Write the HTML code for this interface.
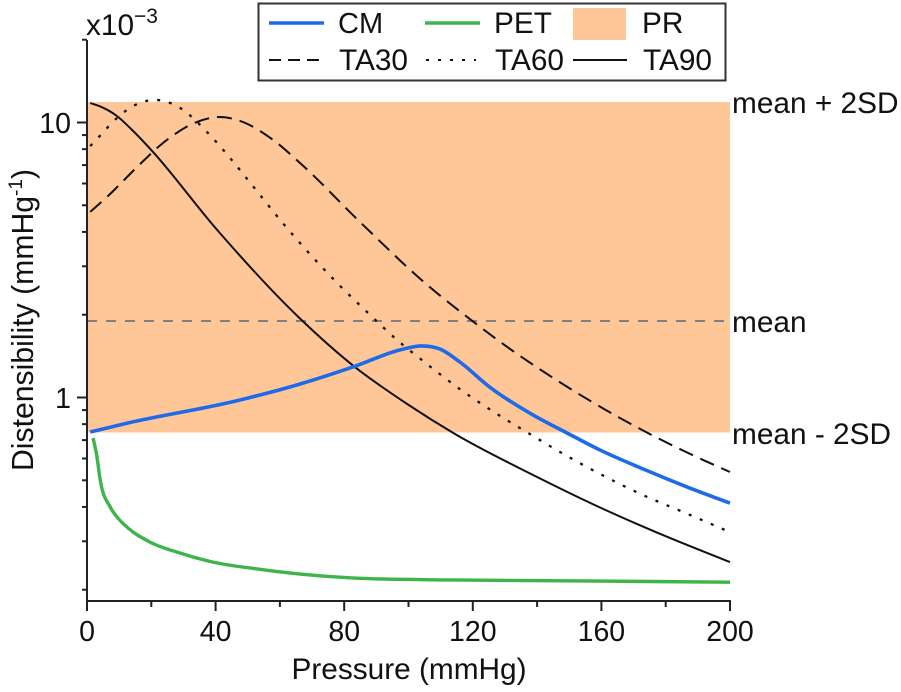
<!DOCTYPE html>
<html lang="en">
<head>
<meta charset="utf-8">
<title>Distensibility vs Pressure</title>
<style>
html,body{margin:0;padding:0;background:#fff;width:901px;height:692px;overflow:hidden}
svg{display:block;font-family:"Liberation Sans",Arial,sans-serif;fill:#111}
text{font-size:29.8px}
text.tick{font-size:28.5px}
</style>
</head>
<body>
<svg id="chart" width="901" height="692" viewBox="0 0 901 692" xmlns="http://www.w3.org/2000/svg">
  <g id="plot"></g>
  <g id="axes"></g>
  <text x="86" y="35">x10<tspan dy="-12" font-size="21">−3</tspan></text>
  <text x="409" y="679" text-anchor="middle">Pressure (mmHg)</text>
  <text transform="translate(33,320) rotate(-90)" text-anchor="middle" style="font-size:30.2px">Distensibility (mmHg<tspan dy="-11" font-size="19">-1</tspan><tspan dy="11">)</tspan></text>
  <text x="732" y="113">mean + 2SD</text>
  <text x="732" y="332">mean</text>
  <text x="732" y="444">mean - 2SD</text>
  <g>
    <rect x="258.5" y="3.5" width="467" height="77" fill="#fff" stroke="#333" stroke-width="2"/>
    <line x1="269" x2="324" y1="23" y2="23" stroke="#1f6ae8" stroke-width="3.5"/>
    <text x="338" y="33" style="font-size:29px">CM</text>
    <line x1="425" x2="480" y1="23" y2="23" stroke="#3db54a" stroke-width="3.5"/>
    <text x="494" y="33">PET</text>
    <rect x="573" y="8" width="53" height="32" fill="#ffc797"/>
    <text x="642" y="33">PR</text>
    <line x1="269" x2="319" y1="60" y2="60" stroke="#111" stroke-width="2" stroke-dasharray="12 7"/>
    <text x="339" y="70">TA30</text>
    <line x1="426" x2="476" y1="60" y2="60" stroke="#111" stroke-width="2" stroke-dasharray="3 9"/>
    <text x="495" y="70">TA60</text>
    <line x1="573" x2="627" y1="60" y2="60" stroke="#111" stroke-width="2"/>
    <text x="643" y="70">TA90</text>
  </g>
</svg>
<script>
// Pressure in mmHg; distensibility in units of 1e-3 mmHg^-1
const bandLow = 0.746;
const bandMean = 1.897;
const bandHigh = 11.87;

const cmPressure = [1, 12.4, 47.6, 66.3, 83.4, 97.4, 104.2, 109.8, 116, 125.3, 138.7, 149.3, 159.6, 172.9, 186.6, 200];
const cmValues = [0.749, 0.806, 0.979, 1.12, 1.30, 1.49, 1.54, 1.50, 1.345, 1.09, 0.864, 0.743, 0.644, 0.55, 0.473, 0.413];

const petPressure = [1.9, 3.1, 4, 7.2, 9.3, 12.8, 19.6, 28.9, 39.2, 52.9, 66.3, 81.8, 112.9, 159.6, 200];
const petValues = [0.712, 0.608, 0.510, 0.40, 0.368, 0.335, 0.298, 0.272, 0.252, 0.238, 0.228, 0.221, 0.217, 0.215, 0.213];

const ta30Pressure = [1, 6.2, 15.6, 23.3, 34.2, 41.4, 47.6, 57.9, 66.3, 84.9, 105.1, 119.8, 130.6, 144.9, 157.1, 175.7, 191.6, 200];
const ta30Values = [4.73, 5.36, 6.89, 8.36, 10.04, 10.47, 10.13, 8.64, 7.12, 4.35, 2.61, 1.90, 1.53, 1.18, 0.963, 0.73, 0.593, 0.536];

const ta60Pressure = [1, 3.7, 9.3, 15, 21.8, 29, 37.3, 44.5, 51.3, 60.6, 77.8, 88, 96.4, 104.8, 116.6, 128.5, 137.8, 147.7, 159.6, 172.9, 186.9, 200];
const ta60Values = [8.21, 8.86, 10.38, 11.58, 12.07, 11.29, 9.24, 7.43, 5.93, 4.35, 2.61, 2.0, 1.62, 1.35, 1.06, 0.857, 0.736, 0.628, 0.527, 0.442, 0.377, 0.324];

const ta90Pressure = [1, 4, 9.3, 14, 20, 40, 66, 83, 100, 114, 140, 160, 180, 200];
const ta90Values = [11.77, 11.45, 10.56, 9.4, 7.94, 4.13, 1.95, 1.30, 0.94, 0.742, 0.514, 0.396, 0.313, 0.252];

const xMajorTicks = [0, 40, 80, 120, 160, 200];
const xMinorTicks = [20, 60, 100, 140, 180];
const yMajorTicks = [1, 10];
const yMajorLabels = ["1", "10"];
const yMinorTicks = [0.2, 0.3, 0.4, 0.5, 0.6, 0.7, 0.8, 0.9, 2, 3, 4, 5, 6, 7, 8, 9, 20];

const SVGNS = "http://www.w3.org/2000/svg";
const xLeft = 87, xRight = 730, xMax = 200;
const yAtOne = 397.5, decadePx = 275, yAxisBottom = 601, yAxisTop = 40;
const xScale = p => xLeft + (p / xMax) * (xRight - xLeft);
const yScale = v => yAtOne - Math.log10(v) * decadePx;

const plot = document.getElementById("plot");
const axes = document.getElementById("axes");

function shape(parent, tag, attrs) {
  const el = document.createElementNS(SVGNS, tag);
  for (const k in attrs) el.setAttribute(k, attrs[k]);
  parent.appendChild(el);
  return el;
}

function curve(xs, ys) {
  const X = xs.map(xScale), Y = ys.map(yScale), n = X.length;
  const slope = i => (Y[i + 1] - Y[i]) / (X[i + 1] - X[i]);
  const m = X.map((_, i) => {
    if (i === 0) return slope(0);
    if (i === n - 1) return slope(n - 2);
    const h0 = X[i] - X[i - 1], h1 = X[i + 1] - X[i];
    return (h1 * slope(i - 1) + h0 * slope(i)) / (h0 + h1);
  });
  let d = "M" + X[0].toFixed(2) + " " + Y[0].toFixed(2);
  for (let i = 0; i < n - 1; i++) {
    const h = (X[i + 1] - X[i]) / 3;
    d += "C" + (X[i] + h).toFixed(2) + " " + (Y[i] + m[i] * h).toFixed(2) + " " +
         (X[i + 1] - h).toFixed(2) + " " + (Y[i + 1] - m[i + 1] * h).toFixed(2) + " " +
         X[i + 1].toFixed(2) + " " + Y[i + 1].toFixed(2);
  }
  return d;
}

const band = shape(plot, "rect", {
  x: xScale(0), y: yScale(bandHigh), width: xScale(xMax) - xScale(0),
  height: yScale(bandLow) - yScale(bandHigh), fill: "#ffc797"
});



const meanLine = shape(plot, "line", {
  x1: xScale(0), x2: xScale(xMax), y1: yScale(bandMean), y2: yScale(bandMean),
  stroke: "#808080", "stroke-width": 2, "stroke-dasharray": "10 9"
});



const ta30Line = shape(plot, "path", {
  d: curve(ta30Pressure, ta30Values), fill: "none", stroke: "#111", "stroke-width": 2, "stroke-dasharray": "15 8"
});



const ta60Line = shape(plot, "path", {
  d: curve(ta60Pressure, ta60Values), fill: "none", stroke: "#111", "stroke-width": 2.3, "stroke-dasharray": "3 9"
});



const ta90Line = shape(plot, "path", {
  d: curve(ta90Pressure, ta90Values), fill: "none", stroke: "#111", "stroke-width": 2
});



const petLine = shape(plot, "path", {
  d: curve(petPressure, petValues), fill: "none", stroke: "#3db54a", "stroke-width": 3.4
});



const cmLine = shape(plot, "path", {
  d: curve(cmPressure, cmValues), fill: "none", stroke: "#1f6ae8", "stroke-width": 3.6
});



const yAxisLine = shape(axes, "line", { x1: xLeft, x2: xLeft, y1: yAxisTop, y2: yAxisBottom + 1, stroke: "#222", "stroke-width": 2 });



const xAxisLine = shape(axes, "line", { x1: xLeft - 1, x2: xRight + 1, y1: yAxisBottom, y2: yAxisBottom, stroke: "#222", "stroke-width": 2 });



xMajorTicks.forEach(t => {
  const tick = shape(axes, "line", { x1: xScale(t), x2: xScale(t), y1: yAxisBottom, y2: yAxisBottom + 10, stroke: "#222", "stroke-width": 2 });
  
  
  const label = shape(axes, "text", { x: xScale(t), y: 641, "text-anchor": "middle", class: "tick" });
  label.textContent = String(t);
  
  
});

xMinorTicks.forEach(t => {
  const tick = shape(axes, "line", { x1: xScale(t), x2: xScale(t), y1: yAxisBottom, y2: yAxisBottom + 6, stroke: "#222", "stroke-width": 2 });
  
  
});

yMajorTicks.forEach((t, i) => {
  const tick = shape(axes, "line", { x1: xLeft - 10, x2: xLeft, y1: yScale(t), y2: yScale(t), stroke: "#222", "stroke-width": 2 });
  
  
  const label = shape(axes, "text", { x: 71, y: yScale(t) + 10.5, "text-anchor": "end", class: "tick" });
  label.textContent = yMajorLabels[i];
  
  
});

yMinorTicks.forEach(t => {
  const tick = shape(axes, "line", { x1: xLeft - 5, x2: xLeft, y1: yScale(t), y2: yScale(t), stroke: "#222", "stroke-width": 2 });
  
  
});
</script>
</body>
</html>
